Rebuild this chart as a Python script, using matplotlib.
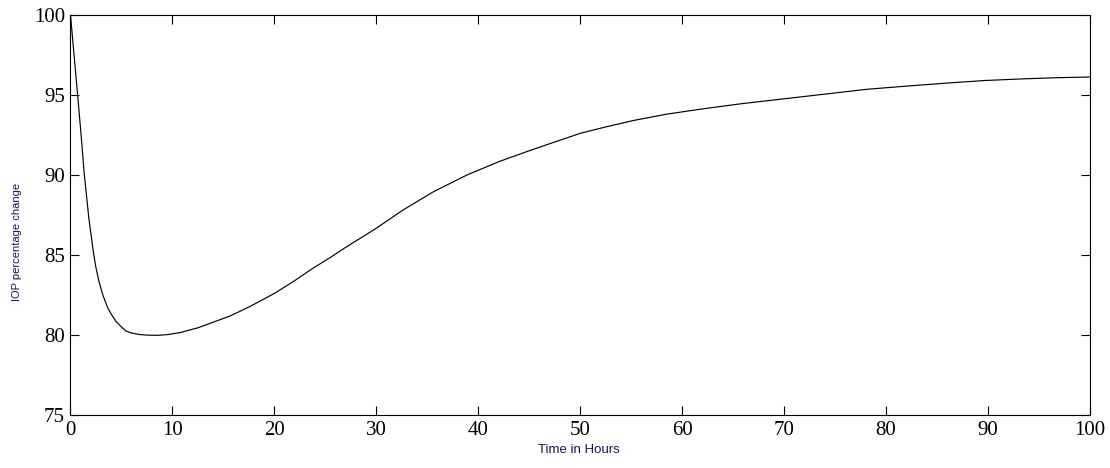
import matplotlib
matplotlib.use("Agg")
import matplotlib.pyplot as plt

# values
hours = [0, 0.25, 0.7, 1.0, 1.36, 1.8, 2.24, 2.5, 2.83, 3.2, 3.65, 4.0, 4.46,
         5.0, 5.44, 6.0, 6.75, 7.6, 8.5, 9.5, 10.75, 12.5, 14, 15.7, 17.6,
         20.06, 22, 23.8, 25.5, 27.1, 29.9, 32.6, 35.6, 38.9, 42.1, 44.5,
         47.0, 50, 52.5, 55.2, 58.5, 61.7, 65.8, 69.9, 74, 78.1, 82, 86.2,
         89.7, 93.3, 96.5, 100]
iop = [100, 98.2, 95.0, 92.8, 90.0, 87.3, 85.2, 84.2, 83.25, 82.45, 81.7, 81.3,
       80.85, 80.5, 80.25, 80.12, 80.03, 79.99, 79.98, 80.02, 80.15, 80.45,
       80.8, 81.2, 81.78, 82.62, 83.4, 84.18, 84.85, 85.52, 86.63, 87.8,
       88.95, 90.0, 90.85, 91.4, 91.95, 92.6, 93.0, 93.4, 93.8, 94.1, 94.45,
       94.75, 95.05, 95.35, 95.55, 95.75, 95.9, 96.0, 96.07, 96.12]

xticks = [0, 10, 20, 30, 40, 50, 60, 70, 80, 90, 100]
yticks = [75, 80, 85, 90, 95, 100]

label_color = "#14144e"

fig = plt.figure(figsize=(11.1, 4.68), dpi=100)
ax = fig.add_axes([0.0635, 0.1132, 0.9185, 0.855])

ax.plot(hours, iop, color="black", linewidth=0.85)

ax.set_xlim(0, 100)
ax.set_ylim(75, 100)
ax.set_xticks(xticks)
ax.set_yticks(yticks)
ax.tick_params(direction="in", length=6.7, width=0.8, top=True, right=True,
               labelsize=15, pad=4)
for lbl in ax.get_xticklabels() + ax.get_yticklabels():
    lbl.set_fontfamily("Liberation Serif")
for sp in ax.spines.values():
    sp.set_linewidth(0.8)

ax.set_xlabel("Time in Hours", fontsize=9.5, family="Liberation Sans",
              color=label_color, va="center")
ax.xaxis.set_label_coords(0.499, -0.0875)
ax.set_ylabel("IOP percentage change", fontsize=8, family="Liberation Sans",
              color=label_color, va="center")
ax.yaxis.set_label_coords(-0.052, 0.4325)

fig.savefig("out.png", dpi=100)
